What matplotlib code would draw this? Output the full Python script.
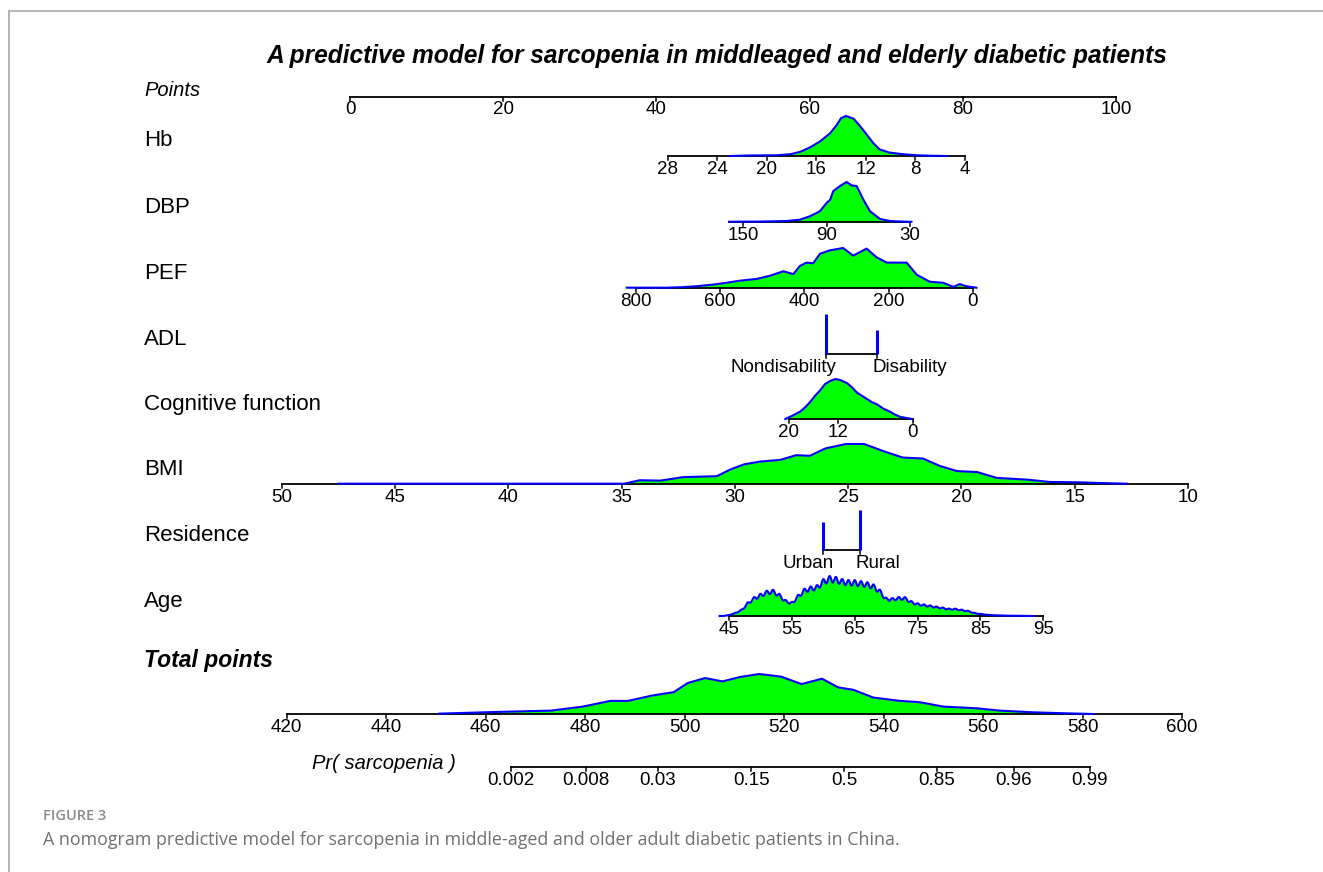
import numpy as np
import matplotlib
matplotlib.use("Agg")
import matplotlib.pyplot as plt
from matplotlib.transforms import blended_transform_factory

# ------------------------------------------------------------------ data
title = "A predictive model for sarcopenia in middleaged and elderly diabetic patients"
caption_head = "FIGURE 3"
caption_text = ("A nomogram predictive model for sarcopenia in middle-aged and older "
                "adult diabetic patients in China.")

row_names = ["Hb", "DBP", "PEF", "ADL", "Cognitive function", "BMI", "Residence", "Age"]

points_ticks = [0, 20, 40, 60, 80, 100]

# linear point assignment per variable: (value_a, points_a, value_b, points_b)
hb_score = (28, 41.48, 4, 80.29)
dbp_score = (150, 51.34, 30, 73.11)
pef_score = (800, 37.34, 0, 81.29)
cog_score = (20, 57.31, 0, 73.46)
bmi_score = (50, -8.88, 10, 109.40)
age_score = (45, 49.48, 95, 90.51)
total_score = (420, -8.25, 600, 108.62)
pr_logit = (-49.43, 0.09291)          # logit(p) = b0 + b1 * total points

hb_range, hb_ticks = (28, 4), [28, 24, 20, 16, 12, 8, 4]
dbp_range, dbp_ticks = (160, 30), [150, 90, 30]
pef_range, pef_ticks = (800, 0), [800, 600, 400, 200, 0]
cog_range, cog_ticks = (20, 0), [20, 12, 0]
bmi_range, bmi_ticks = (50, 10), [50, 45, 40, 35, 30, 25, 20, 15, 10]
age_range, age_ticks = (45, 95), [45, 55, 65, 75, 85, 95]
total_range, total_ticks = (420, 600), [420, 440, 460, 480, 500, 520, 540, 560, 580, 600]
pr_ticks = [0.002, 0.008, 0.03, 0.15, 0.5, 0.85, 0.96, 0.99]
pr_labels = ["0.002", "0.008", "0.03", "0.15", "0.5", "0.85", "0.96", "0.99"]

adl_levels = ["Nondisability", "Disability"]
adl_points = [62.14, 68.76]
adl_props = [1.0, 0.61]
res_levels = ["Urban", "Rural"]
res_points = [61.79, 66.58]
res_props = [0.71, 1.0]

# distributions (value, relative density)
hb_vals = [23.0, 21.5, 19.2, 18.1, 17.3, 16.5, 15.7, 14.9, 14.4, 14.0, 13.6, 13.0,
           12.5, 11.95, 11.4, 10.9, 10.1, 9.0, 7.9, 6.8, 5.5]
hb_dens = [0.0, 0.5, 0.7, 1.7, 4.0, 8.3, 14.0, 21.7, 29.0, 36.3, 38.3, 35.7,
           29.0, 20.7, 12.3, 6.3, 3.3, 1.7, 0.7, 0.3, 0.0]

dbp_vals = [160, 140, 118.8, 109.2, 102, 94.8, 90, 87.5, 85.2, 80.4, 75.6, 72, 68.4,
            63.6, 58.8, 51.6, 44.4, 35, 29]
dbp_dens = [0.3, 0.4, 1.0, 2.3, 5.7, 10.7, 19.0, 22.0, 30.7, 35.7, 39.7, 36.3, 35.7,
            22.3, 10.7, 3.0, 1.0, 0.4, 0.2]

pef_vals = [822, 790, 760, 727, 690, 656, 616, 585, 553, 513, 482, 450, 426, 411, 395,
            379, 363, 340, 308, 284, 252, 228, 204, 157, 133, 102, 70, 46, 31, 15, -9]
pef_dens = [0.3, 0.3, 0.3, 0.3, 0.8, 1.7, 3.3, 5.0, 7.0, 8.7, 11.7, 16.0, 13.3, 21.0,
            24.3, 23.7, 32.7, 36.0, 38.3, 31.0, 37.7, 29.3, 24.3, 24.3, 12.7, 6.0, 5.0,
            1.0, 3.7, 1.7, 0.3]

cog_vals = [20.6, 19.5, 18.2, 17.4, 16.6, 15.8, 15.0, 14.2, 13.4, 12.5, 11.7, 10.6,
            9.8, 9.0, 8.2, 7.4, 6.6, 5.8, 4.8, 3.7, 2.8, 2.0, 1.0, 0.1]
cog_dens = [0, 3, 7, 11, 16, 22, 27, 33, 36, 38, 37, 34, 30, 25, 22, 19, 16, 14, 10,
            7, 4, 2, 1, 0]

bmi_vals = [47.5, 46, 44, 42, 40, 38, 36, 34.9, 34.2, 33.3, 32.3, 30.8, 30.2, 29.6,
            28.9, 28.0, 27.3, 26.7, 26.0, 25.1, 24.3, 23.5, 22.6, 21.7, 20.95, 20.2,
            19.3, 18.45, 17.1, 16.1, 14.9, 13.9, 12.7]
bmi_dens = [0.3, 0.3, 0.3, 0.3, 0.3, 0.3, 0.3, 0.3, 3.7, 3.3, 6.7, 7.7, 14.3, 19.3,
            22.0, 23.7, 28.3, 27.7, 35.0, 39.3, 39.3, 32.7, 26.0, 25.0, 17.7, 12.7,
            11.7, 6.0, 4.3, 2.0, 1.7, 1.0, 0.3]

age_years = list(range(45, 93))
age_freq = [1, 3, 6, 13, 18, 21, 24, 25, 21, 15, 13, 20, 26, 28, 29, 35, 38, 37, 35,
            34, 34, 33, 32, 30, 25, 17, 17, 18, 18, 14, 12, 11, 10, 9, 8, 7, 7, 6, 5,
            3, 2, 1.2, 0.8, 0.6, 0.4, 0.3, 0.2, 0.1]

total_vals = [450.6, 461.9, 473.1, 479.5, 485.1, 488.6, 493.5, 497.8, 500.6, 504.1,
              507.6, 511.1, 515.0, 519.4, 523.5, 527.6, 530.9, 533.9, 537.9, 543.3,
              547.3, 552.0, 558.7, 563.4, 570.1, 576.8, 582.2]
total_dens = [1, 6, 10, 22, 39, 39, 55, 65, 92, 107, 97, 110, 119, 111, 89, 105, 79,
              72, 49, 39, 35, 22, 17, 10, 5, 2, 0]

# ------------------------------------------------------------------ layout
W, H = 1323, 872
PT0_PX, PX_PER_PT = 350.0, 7.66        # where 0 points sits, pixels per point
LABEL_X = 144
DENS_H = 40                            # pixel height of the tallest density
TICK = 4
LAB_OFF = 4.5
row_y = {"Points": 97, "Hb": 156, "DBP": 222, "PEF": 288, "ADL": 354,
         "Cognitive function": 419, "BMI": 484, "Residence": 550, "Age": 616,
         "Total": 714, "Pr": 767}

FONT = ["Liberation Sans", "DejaVu Sans"]
plt.rcParams["font.family"] = FONT

fig = plt.figure(figsize=(W / 100, H / 100), dpi=100)
ax = fig.add_axes([0, 0, 1, 1])
ax.set_xlim((0 - PT0_PX) / PX_PER_PT, (W - PT0_PX) / PX_PER_PT)
ax.set_ylim(H, 0)
ax.axis("off")
lab_tr = blended_transform_factory(fig.transFigure, ax.transData)


def lin(score, v):
    a, pa, b, pb = score
    return pa + (np.asarray(v, dtype=float) - a) * (pb - pa) / (b - a)


def draw_axis(y, x0, x1, tick_x, tick_labels, size=13.5):
    ax.plot([x0, x1], [y, y], color="black", lw=1.3, zorder=3,
            solid_capstyle="projecting")
    for tx, tl in zip(tick_x, tick_labels):
        ax.plot([tx, tx], [y, y + TICK], color="black", lw=1.1, zorder=3)
        ax.text(tx, y + LAB_OFF, tl, ha="center", va="top", fontsize=size)


def draw_density(y, xs, hs):
    xs = np.asarray(xs, dtype=float)
    hs = np.asarray(hs, dtype=float)
    h = hs / hs.max() * DENS_H
    ax.fill_between(xs, y, y - h, color="#00ff00", lw=0, zorder=2)
    ax.plot(xs, y - h, color="#0000ff", lw=1.5, zorder=4)


def row_label(name, y, **kw):
    ax.text(LABEL_X / W, y, name, transform=lab_tr, ha="left", va="baseline",
            fontsize=kw.pop("fontsize", 16), **kw)


# title
ax.text(717 / W, 63, title, transform=lab_tr, ha="center", va="baseline",
        fontsize=17.65, fontweight="bold", fontstyle="italic")

# Points axis
y = row_y["Points"]
row_label("Points", y - 1, fontsize=14.5, fontstyle="italic")
draw_axis(y, 0, 100, points_ticks, [str(t) for t in points_ticks])

# continuous rows
cont_rows = [
    ("Hb", hb_score, hb_range, hb_ticks, hb_vals, hb_dens),
    ("DBP", dbp_score, dbp_range, dbp_ticks, dbp_vals, dbp_dens),
    ("PEF", pef_score, pef_range, pef_ticks, pef_vals, pef_dens),
    ("Cognitive function", cog_score, cog_range, cog_ticks, cog_vals, cog_dens),
    ("BMI", bmi_score, bmi_range, bmi_ticks, bmi_vals, bmi_dens),
]
for name, score, rng, ticks, vals, dens in cont_rows:
    y = row_y[name]
    row_label(name, y - 9.5)
    draw_axis(y, lin(score, rng[0]), lin(score, rng[1]), lin(score, ticks),
              [str(t) for t in ticks])
    draw_density(y, lin(score, vals), dens)

# Age: kernel density from yearly frequencies
y = row_y["Age"]
row_label("Age", y - 9.5)
draw_axis(y, lin(age_score, age_range[0]), lin(age_score, age_range[1]),
          lin(age_score, age_ticks), [str(t) for t in age_ticks])
grid = np.linspace(43.5, 93.5, 900)
kde = np.zeros_like(grid)
for a, f in zip(age_years, age_freq):
    kde += f * np.exp(-0.5 * ((grid - a) / 0.4) ** 2)
draw_density(y, lin(age_score, grid), kde)

# categorical rows
for name, levels, pts, props in [("ADL", adl_levels, adl_points, adl_props),
                                 ("Residence", res_levels, res_points, res_props)]:
    y = row_y[name]
    row_label(name, y - 9.5)
    ax.plot([pts[0], pts[-1]], [y, y], color="black", lw=1.3, zorder=3)
    for p in pts:
        ax.plot([p, p], [y, y + TICK], color="black", lw=1.1, zorder=3)
    ax.vlines(pts, y, y - np.asarray(props) * DENS_H, color="#0000ff", lw=2.2, zorder=4)
    ax.text(pts[0] + 1.3, y + LAB_OFF, levels[0], ha="right", va="top", fontsize=13.5)
    ax.text(pts[-1] - 0.55, y + LAB_OFF, levels[-1], ha="left", va="top", fontsize=13.5)

# Total points
y = row_y["Total"]
ax.text(LABEL_X / W, 667, "Total points", transform=lab_tr, ha="left", va="baseline",
        fontsize=16.5, fontweight="bold", fontstyle="italic")
draw_axis(y, lin(total_score, total_range[0]), lin(total_score, total_range[1]),
          lin(total_score, total_ticks), [str(t) for t in total_ticks])
draw_density(y, lin(total_score, total_vals), total_dens)

# Probability axis
y = row_y["Pr"]
ax.text(456 / W, 769, "Pr( sarcopenia )", transform=lab_tr, ha="right", va="baseline",
        fontsize=14.5, fontstyle="italic")
b0, b1 = pr_logit
pr_arr = np.asarray(pr_ticks)
pr_total = (np.log(pr_arr / (1 - pr_arr)) - b0) / b1
pr_x = lin(total_score, pr_total)
draw_axis(y, pr_x[0], pr_x[-1], pr_x, pr_labels)

# frame of the figure panel
fig.add_artist(plt.Line2D([9 / W, 1], [1 - 11 / H, 1 - 11 / H], color="#b4b4b4",
                          lw=1.4, transform=fig.transFigure))
fig.add_artist(plt.Line2D([9 / W, 9 / W], [0, 1 - 11 / H], color="#b4b4b4",
                          lw=1.4, transform=fig.transFigure))

# caption
fig.text(43 / W, 1 - 820 / H, caption_head, ha="left", va="baseline", fontsize=10.5,
         color="#8a8a8a", fontweight="semibold", family=["Open Sans", "DejaVu Sans"])
fig.text(43 / W, 1 - 845 / H, caption_text, ha="left", va="baseline", fontsize=12.85,
         color="#707070", family=["Open Sans", "DejaVu Sans"])

fig.savefig("out.png", dpi=100)
